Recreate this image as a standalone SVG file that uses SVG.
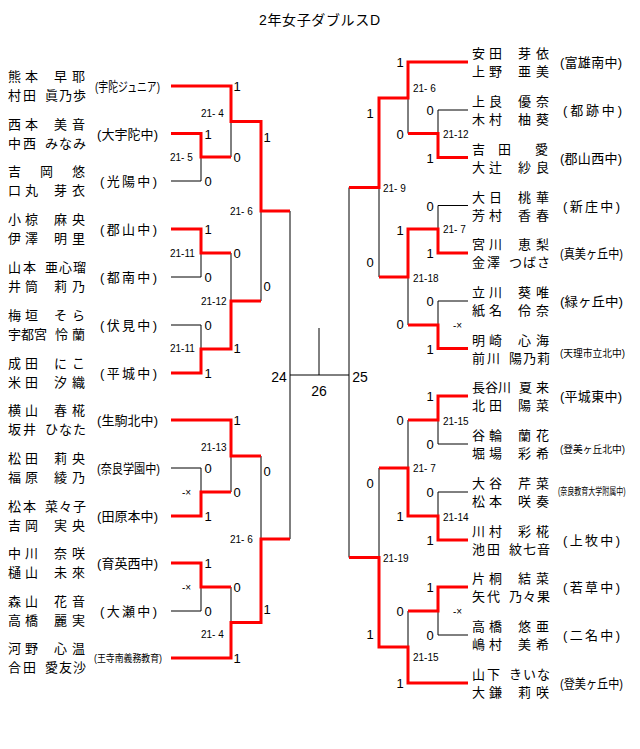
<svg xmlns="http://www.w3.org/2000/svg" width="640" height="749" viewBox="0 0 640 749">
<style>
text{font-family:'Liberation Sans','Noto Sans CJK JP',sans-serif;fill:#000}
.nm{font-size:13px}
.sc{font-size:13px}
.ss{font-size:10px}
.sco{font-size:10px}
.g{font-size:13px;text-anchor:middle}
.big{font-size:14px;text-anchor:middle}
.bk{stroke:#000;stroke-width:1;fill:none}
.rd{stroke:#f00;stroke-width:3;fill:none;stroke-linejoin:miter}
</style>
<rect width="640" height="749" fill="#fff"/>
<g id="title"><text x="259" y="24.5" font-size="14" textLength="121" lengthAdjust="spacing">2年女子ダブルスD</text></g>

<g id="connectors">
<path class="bk" d="M171,86H231M171,133.5H201M171,181H201M171,229H201M171,277H201M171,325H201M171,373H201M171,420H231M171,468H201M171,516H201M171,563H201M171,611H201M171,658H231M201,133.5V181M201,229V277M201,325V373M201,468V516M201,563V611M201,157H231M201,253H231M201,349H231M201,492H231M201,587H231M231,86V157M231,253V349M231,420V492M231,587V658M231,121.5H261M231,301H261M231,456H261M231,622.5H261M261,121.5V301M261,456V622.5M261,211H290M261,539H290M290,211V539M290,375H349M319,328V375M349,187.5V557.5"/>
<path class="bk" d="M408,62H468M438,110H468M438,157.5H468M438,205.5H468M438,253H468M438,301H468M438,348.5H468M438,396H468M438,444H468M438,492H468M438,540H468M438,587H468M438,635H468M408,683H468M438,110V157.5M438,205.5V253M438,301V348.5M438,396V444M438,492V540M438,587V635M408,133.5H438M408,229H438M408,325H438M408,420H438M408,516H438M408,611H438M408,62V133.5M408,229V325M408,420V516M408,611V683M379,98H408M379,277H408M379,468H408M379,647H408M379,98V277M379,468V647M349,187.5H379M349,557.5H379"/>
<g id="winners">
<path class="rd" d="M171,86H231V121.5H261V211H290"/>
<path class="rd" d="M171,133.5H201V157H231"/>
<path class="rd" d="M171,229H201V253H231"/>
<path class="rd" d="M171,373H201V349H231V301H261"/>
<path class="rd" d="M171,420H231V456H261"/>
<path class="rd" d="M171,516H201V492H231"/>
<path class="rd" d="M171,563H201V587H231"/>
<path class="rd" d="M171,658H231V622.5H261V539H290"/>
<path class="rd" d="M468,62H408V98H379V187.5H349"/>
<path class="rd" d="M468,157.5H438V133.5H408"/>
<path class="rd" d="M468,253H438V229H408V277H379"/>
<path class="rd" d="M468,348.5H438V325H408"/>
<path class="rd" d="M468,396H438V420H408"/>
<path class="rd" d="M468,540H438V516H408V468H379"/>
<path class="rd" d="M468,587H438V611H408"/>
<path class="rd" d="M468,683H408V647H379V557.5H349"/>
</g>
</g>

<g id="scores">
<text class="sco" x="201" y="116.5">21- 4</text>
<text class="sco" x="170" y="161">21- 5</text>
<text class="sco" x="230" y="215">21- 6</text>
<text class="sco" x="170" y="256.5">21-11</text>
<text class="sco" x="201" y="304.5">21-12</text>
<text class="sco" x="170" y="351.5">21-11</text>
<text class="sco" x="201" y="450.5">21-13</text>
<text class="sco" x="182" y="496">-×</text>
<text class="sco" x="230" y="542.5">21- 6</text>
<text class="sco" x="182" y="591">-×</text>
<text class="sco" x="201" y="637.5">21- 4</text>
<text class="sco" x="413" y="92">21- 6</text>
<text class="sco" x="443" y="137.5">21-12</text>
<text class="sco" x="383" y="191.5">21- 9</text>
<text class="sco" x="443" y="232.5">21- 7</text>
<text class="sco" x="413" y="281.5">21-18</text>
<text class="sco" x="453" y="328.5">-×</text>
<text class="sco" x="443" y="424.5">21-15</text>
<text class="sco" x="413" y="471.5">21- 7</text>
<text class="sco" x="443" y="520.5">21-14</text>
<text class="sco" x="383" y="562">21-19</text>
<text class="sco" x="453" y="615">-×</text>
<text class="sco" x="413" y="660.5">21-15</text>
</g>

<g id="games">
<text class="g" x="208" y="138.5">1</text>
<text class="g" x="208" y="186">0</text>
<text class="g" x="208" y="234">1</text>
<text class="g" x="208" y="282">0</text>
<text class="g" x="208" y="330">0</text>
<text class="g" x="208" y="378">1</text>
<text class="g" x="208" y="473">0</text>
<text class="g" x="208" y="521">1</text>
<text class="g" x="208" y="568">1</text>
<text class="g" x="208" y="616">0</text>
<text class="g" x="237" y="91">1</text>
<text class="g" x="237" y="162">0</text>
<text class="g" x="237" y="258">0</text>
<text class="g" x="237" y="353">1</text>
<text class="g" x="237" y="425">1</text>
<text class="g" x="237" y="497">0</text>
<text class="g" x="237" y="592">0</text>
<text class="g" x="237" y="663">1</text>
<text class="g" x="267" y="142">1</text>
<text class="g" x="267" y="291">0</text>
<text class="g" x="267" y="475.5">0</text>
<text class="g" x="267" y="614">1</text>
<text class="g" x="430" y="115">0</text>
<text class="g" x="430" y="162.5">1</text>
<text class="g" x="430" y="210.5">0</text>
<text class="g" x="430" y="258">1</text>
<text class="g" x="430" y="306">0</text>
<text class="g" x="430" y="353.5">1</text>
<text class="g" x="430" y="401">1</text>
<text class="g" x="430" y="449">0</text>
<text class="g" x="430" y="497">0</text>
<text class="g" x="430" y="545">1</text>
<text class="g" x="430" y="592">1</text>
<text class="g" x="430" y="640">0</text>
<text class="g" x="400" y="67">1</text>
<text class="g" x="400" y="138.5">0</text>
<text class="g" x="400" y="235">1</text>
<text class="g" x="400" y="329">0</text>
<text class="g" x="400" y="425">0</text>
<text class="g" x="400" y="521">1</text>
<text class="g" x="400" y="616">0</text>
<text class="g" x="400" y="688">1</text>
<text class="g" x="370" y="118">1</text>
<text class="g" x="370" y="267">0</text>
<text class="g" x="370" y="488">0</text>
<text class="g" x="370" y="639">1</text>
<text class="big" x="279" y="381.5">24</text>
<text class="big" x="360" y="381.5">25</text>
<text class="big" x="319" y="396">26</text>
</g>

<g id="L1"><text class="nm" x="8 25 40 54 72" y="81">熊本 早耶</text><text class="nm" x="8 23 38 45 59 73" y="100">村田 眞乃歩</text><text class="sc" x="95" y="91" textLength="65" lengthAdjust="spacingAndGlyphs">(宇陀ジュニア)</text></g>
<g id="L2"><text class="nm" x="8 25 40 54 72" y="128.5">西本 美音</text><text class="nm" x="8 23 38 45 59 73" y="147.5">中西 みなみ</text><text class="sc" x="97" y="138.5" textLength="61" lengthAdjust="spacing">(大宇陀中)</text></g>
<g id="L3"><text class="nm" x="8 40 60 72" y="176">吉岡 悠</text><text class="nm" x="8 25 40 54 72" y="195">口丸 芽衣</text><text class="sc" x="100" y="186" textLength="57" lengthAdjust="spacing">(光陽中)</text></g>
<g id="L4"><text class="nm" x="8 25 40 54 72" y="224">小椋 麻央</text><text class="nm" x="8 25 40 54 72" y="243">伊澤 明里</text><text class="sc" x="100" y="234" textLength="57" lengthAdjust="spacing">(郡山中)</text></g>
<g id="L5"><text class="nm" x="8 23 38 45 59 73" y="272">山本 亜心瑠</text><text class="nm" x="8 25 40 54 72" y="291">井筒 莉乃</text><text class="sc" x="100" y="282" textLength="57" lengthAdjust="spacing">(都南中)</text></g>
<g id="L6"><text class="nm" x="8 25 40 54 72" y="320">梅垣 そら</text><text class="nm" x="8 21 34 48 55 72" y="339">宇都宮 怜蘭</text><text class="sc" x="100" y="330" textLength="57" lengthAdjust="spacing">(伏見中)</text></g>
<g id="L7"><text class="nm" x="8 25 40 54 72" y="368">成田 にこ</text><text class="nm" x="8 25 40 54 72" y="387">米田 汐織</text><text class="sc" x="100" y="378" textLength="57" lengthAdjust="spacing">(平城中)</text></g>
<g id="L8"><text class="nm" x="8 25 40 54 72" y="415">横山 春椛</text><text class="nm" x="8 23 38 45 59 73" y="434">坂井 ひなた</text><text class="sc" x="97" y="425" textLength="61" lengthAdjust="spacing">(生駒北中)</text></g>
<g id="L9"><text class="nm" x="8 25 40 54 72" y="463">松田 莉央</text><text class="nm" x="8 25 40 54 72" y="482">福原 綾乃</text><text class="sc" x="97" y="473" textLength="63" lengthAdjust="spacingAndGlyphs">(奈良学園中)</text></g>
<g id="L10"><text class="nm" x="8 23 38 45 59 73" y="511">松本 菜々子</text><text class="nm" x="8 25 40 54 72" y="530">吉岡 実央</text><text class="sc" x="97" y="521" textLength="61" lengthAdjust="spacing">(田原本中)</text></g>
<g id="L11"><text class="nm" x="8 25 40 54 72" y="558">中川 奈咲</text><text class="nm" x="8 25 40 54 72" y="577">樋山 未來</text><text class="sc" x="97" y="568" textLength="61" lengthAdjust="spacing">(育英西中)</text></g>
<g id="L12"><text class="nm" x="8 25 40 54 72" y="606">森山 花音</text><text class="nm" x="8 25 40 54 72" y="625">高橋 麗実</text><text class="sc" x="100" y="616" textLength="57" lengthAdjust="spacing">(大瀬中)</text></g>
<g id="L13"><text class="nm" x="8 25 40 54 72" y="653">河野 心温</text><text class="nm" x="8 23 38 45 59 73" y="672">合田 愛友沙</text><text class="ss" x="94" y="661.5" textLength="68" lengthAdjust="spacingAndGlyphs">(王寺南義務教育)</text></g>

<g id="R1"><text class="nm" x="472 489 504 518 536" y="58">安田 芽依</text><text class="nm" x="472 489 504 518 536" y="76">上野 亜美</text><text class="sc" x="560" y="67" textLength="62" lengthAdjust="spacing">(富雄南中)</text></g>
<g id="R2"><text class="nm" x="472 489 504 518 536" y="106">上良 優奈</text><text class="nm" x="472 489 504 518 536" y="124">木村 柚葵</text><text class="sc" x="563" y="115" textLength="59" lengthAdjust="spacing">(都跡中)</text></g>
<g id="R3"><text class="nm" x="472 498 520 535" y="153.5">吉田 愛</text><text class="nm" x="472 489 504 518 536" y="171.5">大辻 紗良</text><text class="sc" x="560" y="162.5" textLength="62" lengthAdjust="spacing">(郡山西中)</text></g>
<g id="R4"><text class="nm" x="472 489 504 518 536" y="201.5">大日 桃華</text><text class="nm" x="472 489 504 518 536" y="219.5">芳村 香春</text><text class="sc" x="563" y="210.5" textLength="57" lengthAdjust="spacing">(新庄中)</text></g>
<g id="R5"><text class="nm" x="472 489 504 518 536" y="249">宮川 恵梨</text><text class="nm" x="472 487 502 509 523 537" y="267">金澤 つばさ</text><text class="sc" x="623" y="258" text-anchor="end" textLength="63" lengthAdjust="spacingAndGlyphs">(真美ヶ丘中)</text></g>
<g id="R6"><text class="nm" x="472 489 504 518 536" y="297">立川 葵唯</text><text class="nm" x="472 489 504 518 536" y="315">紙名 伶奈</text><text class="sc" x="623" y="306" text-anchor="end" textLength="63" lengthAdjust="spacingAndGlyphs">(緑ヶ丘中)</text></g>
<g id="R7"><text class="nm" x="472 489 504 518 536" y="344.5">明崎 心海</text><text class="nm" x="472 487 502 509 523 537" y="362.5">前川 陽乃莉</text><text class="ss" x="625" y="357" text-anchor="end" font-size="11" textLength="65" lengthAdjust="spacingAndGlyphs">(天理市立北中)</text></g>
<g id="R8"><text class="nm" x="472 485 498 512 519 536" y="392">長谷川 夏来</text><text class="nm" x="472 489 504 518 536" y="410">北田 陽菜</text><text class="sc" x="560" y="401" textLength="62" lengthAdjust="spacing">(平城東中)</text></g>
<g id="R9"><text class="nm" x="472 489 504 518 536" y="440">谷輪 蘭花</text><text class="nm" x="472 489 504 518 536" y="458">堀場 彩希</text><text class="ss" x="625" y="452.5" text-anchor="end" font-size="11" textLength="65" lengthAdjust="spacingAndGlyphs">(登美ヶ丘北中)</text></g>
<g id="R10"><text class="nm" x="472 489 504 518 536" y="488">大谷 芹菜</text><text class="nm" x="472 489 504 518 536" y="506">松本 咲奏</text><text class="ss" transform="translate(558 494.5) scale(0.7 1)">(奈良教育大学附属中)</text></g>
<g id="R11"><text class="nm" x="472 489 504 518 536" y="536">川村 彩椛</text><text class="nm" x="472 487 502 509 523 537" y="554">池田 紋七音</text><text class="sc" x="563" y="545" textLength="57" lengthAdjust="spacing">(上牧中)</text></g>
<g id="R12"><text class="nm" x="472 489 504 518 536" y="583">片桐 結菜</text><text class="nm" x="472 487 502 509 523 537" y="601">矢代 乃々果</text><text class="sc" x="563" y="592" textLength="57" lengthAdjust="spacing">(若草中)</text></g>
<g id="R13"><text class="nm" x="472 489 504 518 536" y="631">高橋 悠亜</text><text class="nm" x="472 489 504 518 536" y="649">嶋村 美希</text><text class="sc" x="563" y="640" textLength="57" lengthAdjust="spacing">(二名中)</text></g>
<g id="R14"><text class="nm" x="472 487 502 509 523 537" y="679">山下 きいな</text><text class="nm" x="472 489 504 518 536" y="697">大鎌 莉咲</text><text class="sc" x="623" y="688" text-anchor="end" textLength="63" lengthAdjust="spacingAndGlyphs">(登美ヶ丘中)</text></g>
</svg>
